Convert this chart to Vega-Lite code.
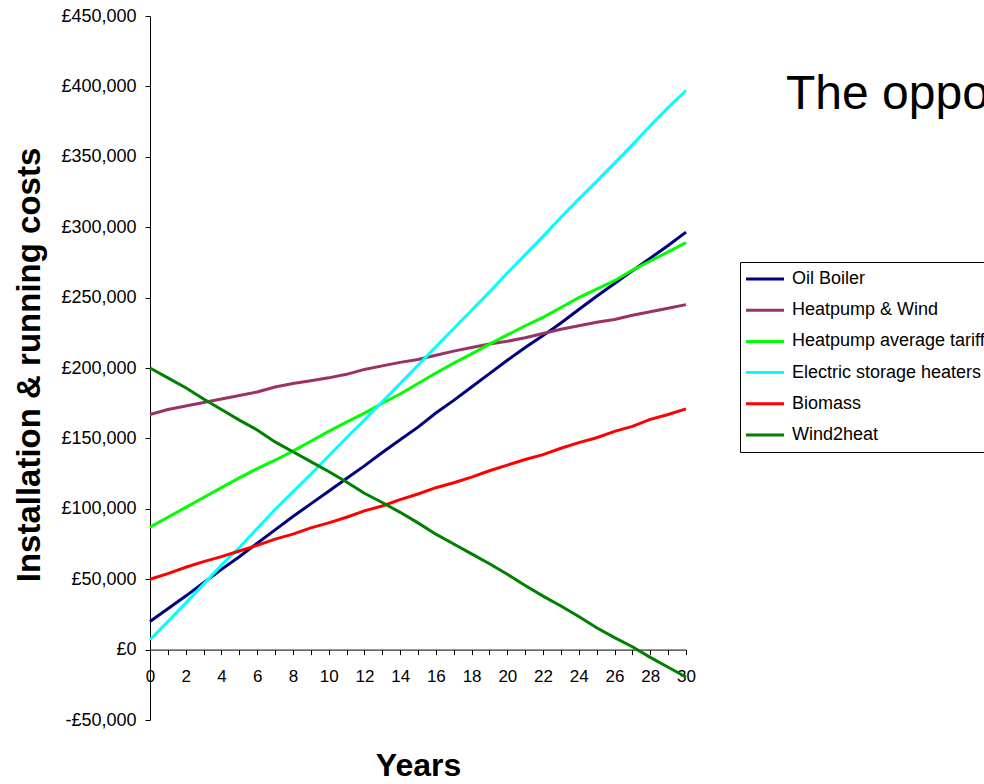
{
  "$schema": "https://vega.github.io/schema/vega-lite/v6.json",
  "autosize": "none",
  "width": 536,
  "height": 704,
  "padding": {"left": 150, "top": 16, "right": 298, "bottom": 64},
  "background": "white",
  "config": {
    "font": "Liberation Sans",
    "view": {"stroke": null},
    "axis": {"grid": false, "domainColor": "#000000", "tickColor": "#000000", "labelColor": "#000000", "titleColor": "#000000"}
  },
  "title": {
    "text": "The opportunity",
    "orient": "top",
    "anchor": "start",
    "frame": "group",
    "dx": 636,
    "offset": -150,
    "baseline": "alphabetic",
    "fontSize": 48,
    "fontWeight": "normal",
    "color": "#000000",
    "font": "Liberation Sans"
  },
  "data": {
    "values": [
      {"year":0,"system":"Oil Boiler","cost":20000},{"year":1,"system":"Oil Boiler","cost":29000},{"year":2,"system":"Oil Boiler","cost":38000},{"year":3,"system":"Oil Boiler","cost":47500},{"year":4,"system":"Oil Boiler","cost":57000},{"year":5,"system":"Oil Boiler","cost":66000},{"year":6,"system":"Oil Boiler","cost":75500},{"year":7,"system":"Oil Boiler","cost":85000},{"year":8,"system":"Oil Boiler","cost":94500},{"year":9,"system":"Oil Boiler","cost":103500},{"year":10,"system":"Oil Boiler","cost":112500},{"year":11,"system":"Oil Boiler","cost":121500},{"year":12,"system":"Oil Boiler","cost":130500},{"year":13,"system":"Oil Boiler","cost":140000},{"year":14,"system":"Oil Boiler","cost":149000},{"year":15,"system":"Oil Boiler","cost":158000},{"year":16,"system":"Oil Boiler","cost":168000},{"year":17,"system":"Oil Boiler","cost":177000},{"year":18,"system":"Oil Boiler","cost":186500},{"year":19,"system":"Oil Boiler","cost":196000},{"year":20,"system":"Oil Boiler","cost":205500},{"year":21,"system":"Oil Boiler","cost":214500},{"year":22,"system":"Oil Boiler","cost":223000},{"year":23,"system":"Oil Boiler","cost":232000},{"year":24,"system":"Oil Boiler","cost":241500},{"year":25,"system":"Oil Boiler","cost":251000},{"year":26,"system":"Oil Boiler","cost":260000},{"year":27,"system":"Oil Boiler","cost":269000},{"year":28,"system":"Oil Boiler","cost":278000},{"year":29,"system":"Oil Boiler","cost":287000},{"year":30,"system":"Oil Boiler","cost":296500},
      {"year":0,"system":"Heatpump & Wind","cost":167000},{"year":1,"system":"Heatpump & Wind","cost":170500},{"year":2,"system":"Heatpump & Wind","cost":173000},{"year":3,"system":"Heatpump & Wind","cost":175500},{"year":4,"system":"Heatpump & Wind","cost":178000},{"year":5,"system":"Heatpump & Wind","cost":180500},{"year":6,"system":"Heatpump & Wind","cost":183000},{"year":7,"system":"Heatpump & Wind","cost":186500},{"year":8,"system":"Heatpump & Wind","cost":189000},{"year":9,"system":"Heatpump & Wind","cost":191000},{"year":10,"system":"Heatpump & Wind","cost":193000},{"year":11,"system":"Heatpump & Wind","cost":195500},{"year":12,"system":"Heatpump & Wind","cost":199000},{"year":13,"system":"Heatpump & Wind","cost":201500},{"year":14,"system":"Heatpump & Wind","cost":204000},{"year":15,"system":"Heatpump & Wind","cost":206000},{"year":16,"system":"Heatpump & Wind","cost":209000},{"year":17,"system":"Heatpump & Wind","cost":212000},{"year":18,"system":"Heatpump & Wind","cost":214500},{"year":19,"system":"Heatpump & Wind","cost":217000},{"year":20,"system":"Heatpump & Wind","cost":219000},{"year":21,"system":"Heatpump & Wind","cost":221500},{"year":22,"system":"Heatpump & Wind","cost":224500},{"year":23,"system":"Heatpump & Wind","cost":227500},{"year":24,"system":"Heatpump & Wind","cost":230000},{"year":25,"system":"Heatpump & Wind","cost":232500},{"year":26,"system":"Heatpump & Wind","cost":234500},{"year":27,"system":"Heatpump & Wind","cost":237500},{"year":28,"system":"Heatpump & Wind","cost":240000},{"year":29,"system":"Heatpump & Wind","cost":242500},{"year":30,"system":"Heatpump & Wind","cost":245000},
      {"year":0,"system":"Heatpump average tariff","cost":87000},{"year":1,"system":"Heatpump average tariff","cost":94000},{"year":2,"system":"Heatpump average tariff","cost":101000},{"year":3,"system":"Heatpump average tariff","cost":108000},{"year":4,"system":"Heatpump average tariff","cost":115000},{"year":5,"system":"Heatpump average tariff","cost":122000},{"year":6,"system":"Heatpump average tariff","cost":128500},{"year":7,"system":"Heatpump average tariff","cost":134500},{"year":8,"system":"Heatpump average tariff","cost":141000},{"year":9,"system":"Heatpump average tariff","cost":148000},{"year":10,"system":"Heatpump average tariff","cost":155000},{"year":11,"system":"Heatpump average tariff","cost":161500},{"year":12,"system":"Heatpump average tariff","cost":168000},{"year":13,"system":"Heatpump average tariff","cost":175000},{"year":14,"system":"Heatpump average tariff","cost":181500},{"year":15,"system":"Heatpump average tariff","cost":189000},{"year":16,"system":"Heatpump average tariff","cost":196500},{"year":17,"system":"Heatpump average tariff","cost":203500},{"year":18,"system":"Heatpump average tariff","cost":210000},{"year":19,"system":"Heatpump average tariff","cost":217000},{"year":20,"system":"Heatpump average tariff","cost":223500},{"year":21,"system":"Heatpump average tariff","cost":230000},{"year":22,"system":"Heatpump average tariff","cost":236000},{"year":23,"system":"Heatpump average tariff","cost":243000},{"year":24,"system":"Heatpump average tariff","cost":250000},{"year":25,"system":"Heatpump average tariff","cost":256000},{"year":26,"system":"Heatpump average tariff","cost":262000},{"year":27,"system":"Heatpump average tariff","cost":269500},{"year":28,"system":"Heatpump average tariff","cost":276000},{"year":29,"system":"Heatpump average tariff","cost":282500},{"year":30,"system":"Heatpump average tariff","cost":289000},
      {"year":0,"system":"Electric storage heaters","cost":7000},{"year":1,"system":"Electric storage heaters","cost":20000},{"year":2,"system":"Electric storage heaters","cost":33000},{"year":3,"system":"Electric storage heaters","cost":46500},{"year":4,"system":"Electric storage heaters","cost":60000},{"year":5,"system":"Electric storage heaters","cost":72500},{"year":6,"system":"Electric storage heaters","cost":86000},{"year":7,"system":"Electric storage heaters","cost":99500},{"year":8,"system":"Electric storage heaters","cost":112000},{"year":9,"system":"Electric storage heaters","cost":124500},{"year":10,"system":"Electric storage heaters","cost":137500},{"year":11,"system":"Electric storage heaters","cost":150500},{"year":12,"system":"Electric storage heaters","cost":163000},{"year":13,"system":"Electric storage heaters","cost":176000},{"year":14,"system":"Electric storage heaters","cost":189000},{"year":15,"system":"Electric storage heaters","cost":202000},{"year":16,"system":"Electric storage heaters","cost":215000},{"year":17,"system":"Electric storage heaters","cost":228000},{"year":18,"system":"Electric storage heaters","cost":241000},{"year":19,"system":"Electric storage heaters","cost":254000},{"year":20,"system":"Electric storage heaters","cost":267500},{"year":21,"system":"Electric storage heaters","cost":280500},{"year":22,"system":"Electric storage heaters","cost":293500},{"year":23,"system":"Electric storage heaters","cost":307000},{"year":24,"system":"Electric storage heaters","cost":320000},{"year":25,"system":"Electric storage heaters","cost":332500},{"year":26,"system":"Electric storage heaters","cost":345500},{"year":27,"system":"Electric storage heaters","cost":358500},{"year":28,"system":"Electric storage heaters","cost":372000},{"year":29,"system":"Electric storage heaters","cost":385000},{"year":30,"system":"Electric storage heaters","cost":397000},
      {"year":0,"system":"Biomass","cost":50000},{"year":1,"system":"Biomass","cost":54000},{"year":2,"system":"Biomass","cost":58500},{"year":3,"system":"Biomass","cost":62500},{"year":4,"system":"Biomass","cost":66000},{"year":5,"system":"Biomass","cost":70000},{"year":6,"system":"Biomass","cost":74000},{"year":7,"system":"Biomass","cost":78500},{"year":8,"system":"Biomass","cost":82000},{"year":9,"system":"Biomass","cost":86500},{"year":10,"system":"Biomass","cost":90000},{"year":11,"system":"Biomass","cost":94000},{"year":12,"system":"Biomass","cost":98500},{"year":13,"system":"Biomass","cost":102000},{"year":14,"system":"Biomass","cost":106500},{"year":15,"system":"Biomass","cost":110500},{"year":16,"system":"Biomass","cost":115000},{"year":17,"system":"Biomass","cost":118500},{"year":18,"system":"Biomass","cost":122500},{"year":19,"system":"Biomass","cost":127000},{"year":20,"system":"Biomass","cost":131000},{"year":21,"system":"Biomass","cost":135000},{"year":22,"system":"Biomass","cost":138500},{"year":23,"system":"Biomass","cost":143000},{"year":24,"system":"Biomass","cost":147000},{"year":25,"system":"Biomass","cost":150500},{"year":26,"system":"Biomass","cost":155000},{"year":27,"system":"Biomass","cost":158500},{"year":28,"system":"Biomass","cost":163500},{"year":29,"system":"Biomass","cost":167000},{"year":30,"system":"Biomass","cost":171000},
      {"year":0,"system":"Wind2heat","cost":200000},{"year":1,"system":"Wind2heat","cost":193000},{"year":2,"system":"Wind2heat","cost":186000},{"year":3,"system":"Wind2heat","cost":178000},{"year":4,"system":"Wind2heat","cost":170500},{"year":5,"system":"Wind2heat","cost":163000},{"year":6,"system":"Wind2heat","cost":156000},{"year":7,"system":"Wind2heat","cost":147500},{"year":8,"system":"Wind2heat","cost":140500},{"year":9,"system":"Wind2heat","cost":133500},{"year":10,"system":"Wind2heat","cost":126500},{"year":11,"system":"Wind2heat","cost":119000},{"year":12,"system":"Wind2heat","cost":111000},{"year":13,"system":"Wind2heat","cost":104500},{"year":14,"system":"Wind2heat","cost":97500},{"year":15,"system":"Wind2heat","cost":90000},{"year":16,"system":"Wind2heat","cost":82000},{"year":17,"system":"Wind2heat","cost":75000},{"year":18,"system":"Wind2heat","cost":68000},{"year":19,"system":"Wind2heat","cost":61000},{"year":20,"system":"Wind2heat","cost":53500},{"year":21,"system":"Wind2heat","cost":45500},{"year":22,"system":"Wind2heat","cost":38000},{"year":23,"system":"Wind2heat","cost":31000},{"year":24,"system":"Wind2heat","cost":23500},{"year":25,"system":"Wind2heat","cost":15500},{"year":26,"system":"Wind2heat","cost":8500},{"year":27,"system":"Wind2heat","cost":2000},{"year":28,"system":"Wind2heat","cost":-5500},{"year":29,"system":"Wind2heat","cost":-12500},{"year":30,"system":"Wind2heat","cost":-19500}
    ]
  },
  "mark": {"type": "line", "strokeWidth": 3, "clip": false},
  "encoding": {
    "x": {
      "field": "year",
      "type": "quantitative",
      "scale": {"domain": [0, 30], "nice": false, "zero": false},
      "axis": {
        "title": "Years",
        "titleFontSize": 32,
        "titleFontWeight": "bold",
        "titleBaseline": "alphabetic",
        "titleY": 126,
        "offset": -70.4,
        "values": [0,1,2,3,4,5,6,7,8,9,10,11,12,13,14,15,16,17,18,19,20,21,22,23,24,25,26,27,28,29,30],
        "labelExpr": "datum.value % 2 == 0 ? datum.label : ''",
        "labelFontSize": 17,
        "labelPadding": 14,
        "labelOverlap": false,
        "labelFlush": false,
        "labelBound": false,
        "tickSize": 5,
        "domainWidth": 1,
        "tickWidth": 1
      }
    },
    "y": {
      "field": "cost",
      "type": "quantitative",
      "scale": {"domain": [-50000, 450000], "nice": false, "zero": false},
      "axis": {
        "title": "Installation & running costs",
        "titleFontSize": 33,
        "titleFontWeight": "bold",
        "titleAngle": -90,
        "titleAlign": "center",
        "titleBaseline": "alphabetic",
        "titleX": -111,
        "titleY": 348.5,
        "values": [-50000, 0, 50000, 100000, 150000, 200000, 250000, 300000, 350000, 400000, 450000],
        "labelExpr": "datum.value < 0 ? '-£' + format(-datum.value, ',') : '£' + format(datum.value, ',')",
        "labelFontSize": 18,
        "labelPadding": 9,
        "labelOverlap": false,
        "tickSize": 5,
        "domainWidth": 1,
        "tickWidth": 1
      }
    },
    "color": {
      "field": "system",
      "type": "nominal",
      "scale": {
        "domain": ["Oil Boiler", "Heatpump & Wind", "Heatpump average tariff", "Electric storage heaters", "Biomass", "Wind2heat"],
        "range": ["#000080", "#993366", "#00ff00", "#00ffff", "#ff0000", "#008000"]
      },
      "legend": {
        "title": null,
        "orient": "none",
        "legendX": 590,
        "legendY": 246,
        "direction": "vertical",
        "strokeColor": "#000000",
        "fillColor": "#ffffff",
        "padding": 8,
        "symbolType": "M-2.2,0H5.4",
        "symbolSize": 100,
        "symbolStrokeWidth": 3,
        "labelFontSize": 18,
        "labelColor": "#000000",
        "labelOffset": 26,
        "labelLimit": 400,
        "rowPadding": 13.2
      }
    }
  }
}
